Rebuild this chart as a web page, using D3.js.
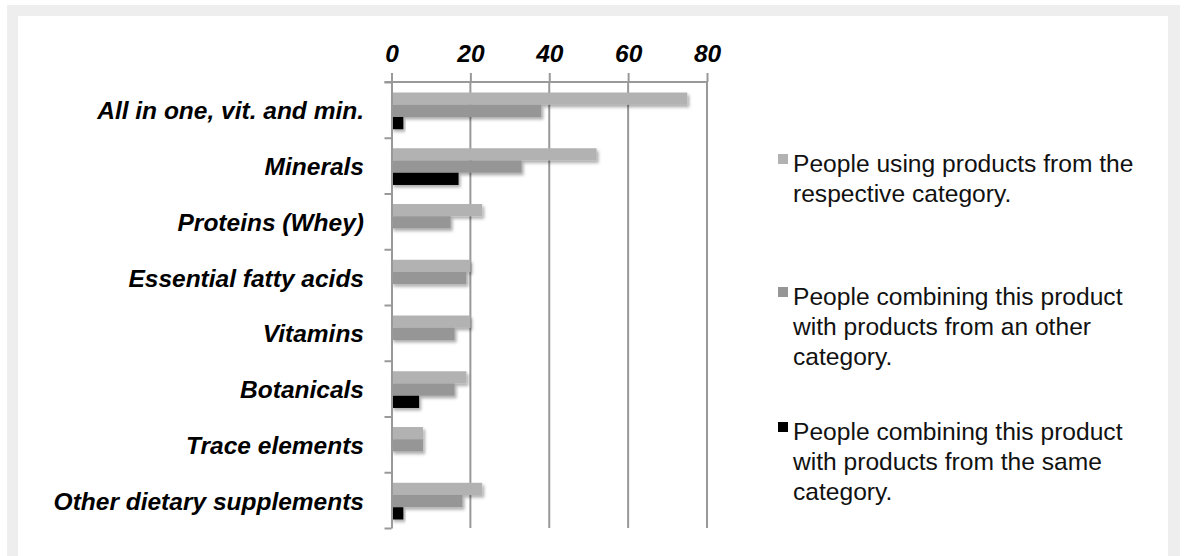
<!DOCTYPE html>
<html>
<head>
<meta charset="utf-8">
<script src="https://cdn.jsdelivr.net/npm/d3@7"></script>
<style>
  html, body { margin: 0; padding: 0; background: #fff; }
  svg { display: block; }
  text { font-family: "Liberation Sans", Arial, sans-serif; }
</style>
</head>
<body>
<svg id="chart" width="1185" height="556"></svg>
<script>
const categories = [
  "All in one, vit. and min.",
  "Minerals",
  "Proteins (Whey)",
  "Essential fatty acids",
  "Vitamins",
  "Botanicals",
  "Trace elements",
  "Other dietary supplements"
];
const seriesNames = [
  "People using products from the respective category.",
  "People combining this product with products from an other category.",
  "People combining this product with products from the same category."
];
const legendLines = [
  ["People using products from the", "respective category."],
  ["People combining this product", "with products from an other", "category."],
  ["People combining this product", "with products from the same", "category."]
];
const usingRespective = [75, 52, 23, 20, 20, 19, 8, 23];
const combiningOther  = [38, 33, 15, 19, 16, 16, 8, 18];
const combiningSame   = [3, 17, 0, 0, 0, 7, 0, 3];
const xTicks = [0, 20, 40, 60, 80];
const seriesColors = ["#b2b2b2", "#969696", "#000000"];

const seriesValues = [usingRespective, combiningOther, combiningSame];

const svg = d3.select("#chart");

// background panel
svg.append("rect").attr("x", 7).attr("y", 5).attr("width", 1173).attr("height", 560).attr("fill", "#eeeeee");
svg.append("rect").attr("x", 18).attr("y", 16).attr("width", 1150).attr("height", 560).attr("fill", "#ffffff");

const defs = svg.append("defs");
const f = defs.append("filter").attr("id", "shadow").attr("x", "-10%").attr("y", "-30%").attr("width", "130%").attr("height", "180%");
f.append("feDropShadow").attr("dx", 2).attr("dy", 2.5).attr("stdDeviation", 1.6)
  .attr("flood-color", "#000").attr("flood-opacity", 0.32);

const plotLeft = 391.5, plotRight = 707, plotTop = 82, plotBottom = 528;

const x = d3.scaleLinear().domain([0, 80]).range([plotLeft, plotRight]);
const y = d3.scaleBand().domain(categories).range([plotTop, plotBottom]).paddingInner(0).paddingOuter(0);
const ys = d3.scaleBand().domain(d3.range(3)).range([1, y.bandwidth() + 1]).paddingInner(0).paddingOuter(0.78);
const yBound = d3.scaleLinear().domain([0, categories.length]).range([plotTop, plotBottom]);

// gridlines
svg.append("g").selectAll("line").data(xTicks.slice(1)).join("line")
  .attr("x1", d => x(d)).attr("x2", d => x(d))
  .attr("y1", plotTop).attr("y2", plotBottom)
  .attr("stroke", "#999").attr("stroke-width", 2);

// bars
const groups = svg.append("g").selectAll("g").data(categories).join("g")
  .attr("transform", d => `translate(0,${y(d)})`);
groups.each(function(cat, ci) {
  d3.select(this).selectAll("rect").data(seriesValues.map((s, si) => ({ si, v: s[ci] })).filter(d => d.v > 0))
    .join("rect")
    .attr("x", x(0))
    .attr("y", d => ys(d.si))
    .attr("width", d => x(d.v) - x(0))
    .attr("height", ys.bandwidth())
    .attr("fill", d => seriesColors[d.si])
    .attr("filter", "url(#shadow)");
});

// top axis
const xAxis = d3.axisTop(x).tickValues(xTicks).tickSize(9).tickSizeOuter(0).tickPadding(11).tickFormat(d3.format("d"));
const gx = svg.append("g").attr("transform", `translate(0,${plotTop})`).call(xAxis);
gx.select(".domain").attr("stroke", "#999").attr("stroke-width", 2).attr("d", `M${plotLeft - 7},0H${plotRight}`);
gx.selectAll(".tick line").attr("stroke", "#999").attr("stroke-width", 2);
gx.selectAll(".tick text")
  .attr("font-family", "'Liberation Sans', Arial, sans-serif")
  .attr("font-size", 24.5).attr("font-weight", "bold").attr("font-style", "italic").attr("fill", "#000");

// left axis (boundary ticks)
const yAxis = d3.axisLeft(yBound).ticks(categories.length).tickSize(7).tickSizeOuter(0).tickFormat("");
const gy = svg.append("g").attr("transform", `translate(${plotLeft},0)`).call(yAxis);
gy.select(".domain").attr("stroke", "#999").attr("stroke-width", 2);
gy.selectAll(".tick line").attr("stroke", "#999").attr("stroke-width", 2);

// category labels
svg.append("g").selectAll("text").data(categories).join("text")
  .attr("x", 364)
  .attr("y", d => y(d) + y.bandwidth() / 2 + 9.5)
  .attr("text-anchor", "end")
  .attr("font-size", 24.5).attr("font-weight", "bold").attr("font-style", "italic")
  .attr("fill", "#000")
  .text(d => d);

// legend
const legendBase = [172, 305, 440];
const lg = svg.append("g");
legendLines.forEach((lines, i) => {
  lg.append("rect").attr("x", 778).attr("y", legendBase[i] - 18).attr("width", 10).attr("height", 10)
    .attr("fill", seriesColors[i]);
  const t = lg.append("text").attr("x", 793).attr("y", legendBase[i])
    .attr("font-size", 24.6).attr("fill", "#111");
  lines.forEach((ln, j) => {
    t.append("tspan").attr("x", 793).attr("y", legendBase[i] + j * 30).text(ln);
  });
});
</script>
</body>
</html>
